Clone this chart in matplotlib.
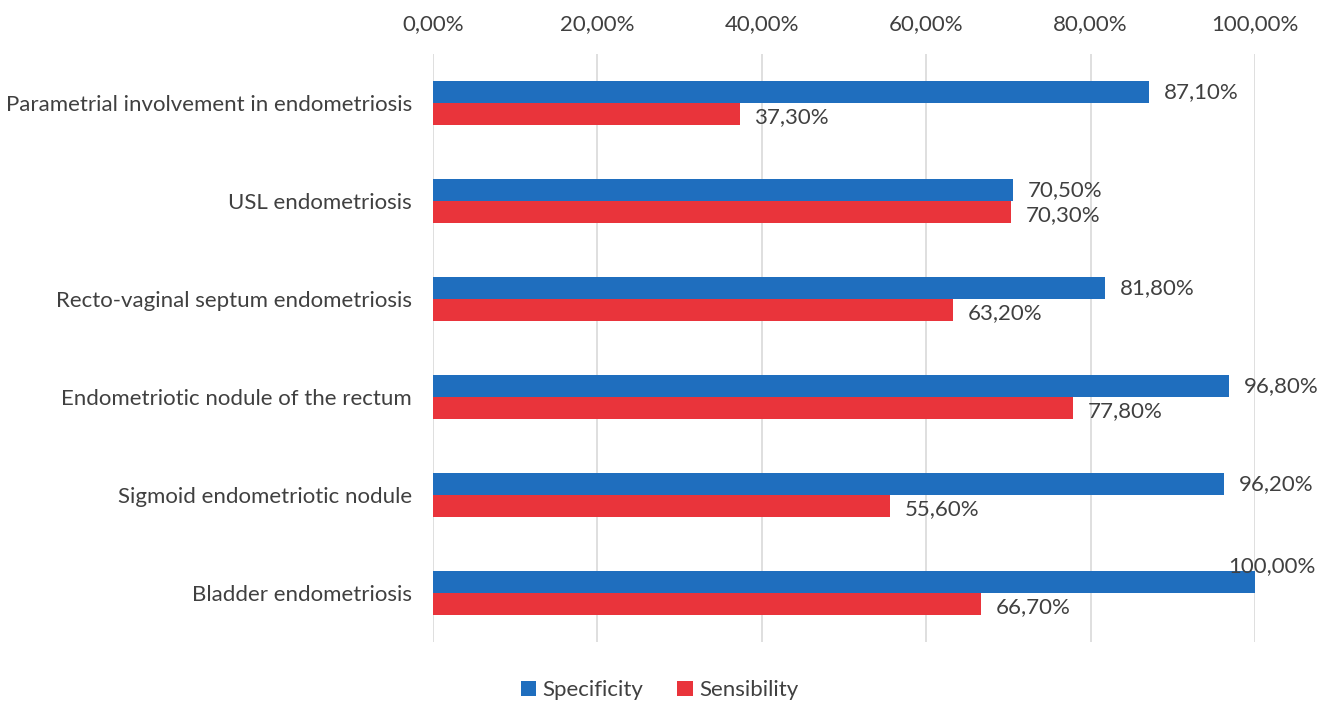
import numpy as np
import matplotlib.pyplot as plt

categories = ["Parametrial involvement in endometriosis", "USL endometriosis",
              "Recto-vaginal septum endometriosis", "Endometriotic nodule of the rectum",
              "Sigmoid endometriotic nodule", "Bladder endometriosis"]
specificity = [87.1, 70.5, 81.8, 96.8, 96.2, 100.0]
sensibility = [37.3, 70.3, 63.2, 77.8, 55.6, 66.7]
xticks = [0, 20, 40, 60, 80, 100]

plt.rcParams['font.family'] = ['Lato', 'DejaVu Sans']
txt = '#404040'
blue = '#1F6EBE'
red = '#E9343B'
fs = 16

fig = plt.figure(figsize=(13.19, 7.03), dpi=100)
ax = fig.add_axes([0.3283, 0.0868, 0.9515 - 0.3283, 0.9232 - 0.0868])

y = np.arange(len(categories))
h = 0.225
ax.barh(y - h / 2, specificity, height=h, color=blue, label='Specificity', zorder=3)
ax.barh(y + h / 2, sensibility, height=h, color=red, label='Sensibility', zorder=3)

def fmt(v):
    return ('%.2f' % v).replace('.', ',') + '%'

for i in range(len(categories)):
    if specificity[i] >= 99:
        # no room on the right: label sits just above the bar end
        ax.text(specificity[i] - 3.3, y[i] - h - 0.05, fmt(specificity[i]), va='center',
                ha='left', fontsize=fs, color=txt, zorder=4)
    else:
        ax.text(specificity[i] + 1.8, y[i] - h / 2, fmt(specificity[i]), va='center',
                ha='left', fontsize=fs, color=txt, zorder=4)
    ax.text(sensibility[i] + 1.8, y[i] + h / 2 + 0.03, fmt(sensibility[i]), va='center',
            ha='left', fontsize=fs, color=txt, zorder=4)

ax.set_xlim(0, 100)
ax.set_ylim(5.5, -0.5)
ax.set_xticks(xticks)
ax.set_xticklabels([fmt(v) for v in xticks], fontsize=fs, color=txt)
ax.xaxis.tick_top()
ax.set_yticks(y)
ax.set_yticklabels(categories, fontsize=fs, color=txt)
ax.tick_params(length=0, pad=14)
ax.tick_params(axis='y', pad=15)
ax.grid(axis='x', color='#D9D9D9', linewidth=1.2, zorder=0)
for s in ax.spines.values():
    s.set_visible(False)

fig.legend(loc='center', bbox_to_anchor=(0.5, 0.018), ncol=2, frameon=False, fontsize=fs,
           handlelength=0.7, handleheight=0.7, handletextpad=0.3, columnspacing=1.5,
           labelcolor=txt)

fig.savefig('out.png', dpi=100)
